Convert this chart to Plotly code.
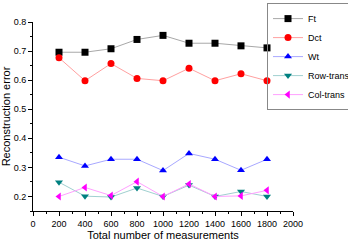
import plotly.graph_objects as go

x = [200, 400, 600, 800, 1000, 1200, 1400, 1600, 1800]
ft = [0.696, 0.696, 0.708, 0.740, 0.754, 0.727, 0.727, 0.718, 0.711]
dct = [0.677, 0.598, 0.657, 0.606, 0.598, 0.641, 0.598, 0.622, 0.598]
wt = [0.335, 0.305, 0.328, 0.328, 0.289, 0.348, 0.328, 0.290, 0.328]
row_trans = [0.249, 0.201, 0.198, 0.229, 0.200, 0.239, 0.200, 0.217, 0.200]
col_trans = [0.200, 0.231, 0.203, 0.251, 0.200, 0.243, 0.200, 0.202, 0.221]

series = [
    ("Ft", ft, "#a8a8a8", "#000000", "square"),
    ("Dct", dct, "#ffa0a0", "#ff0000", "circle"),
    ("Wt", wt, "#a8a8ff", "#0000ff", "triangle-up"),
    ("Row-trans", row_trans, "#a0d0d0", "#008080", "triangle-down"),
    ("Col-trans", col_trans, "#ffa0ff", "#ff00ff", "triangle-left"),
]

fig = go.Figure()
for name, vals, lc, mc, sym in series:
    fig.add_trace(go.Scatter(
        x=x, y=vals, name=name, mode="lines+markers",
        line=dict(color=lc, width=1),
        marker=dict(symbol=sym, color=mc, size=7),
    ))

axis_common = dict(
    showgrid=False, zeroline=False, showline=True, linecolor="#000000", linewidth=1,
    ticks="outside", ticklen=4, tickcolor="#000000", tickwidth=1,
    tickfont=dict(size=9, color="#000000"), automargin=False, tickangle=0,
)
fig.update_xaxes(range=[0, 2000], tick0=0, dtick=200,
                 minor=dict(ticks="outside", ticklen=2, dtick=100, tickcolor="#000000"),
                 title=dict(text="Total number of measurements", font=dict(size=11, color="#000000"), standoff=0),
                 **axis_common)
fig.update_yaxes(range=[0.15, 0.8], tick0=0.2, dtick=0.1, tickformat=".1f",
                 minor=dict(ticks="outside", ticklen=2, dtick=0.05, tickcolor="#000000"),
                 title=dict(text="Reconstruction error", font=dict(size=11, color="#000000"), standoff=2),
                 **axis_common)

fig.update_layout(
    width=348, height=241,
    margin=dict(l=33, r=55, t=22, b=30, autoexpand=False),
    paper_bgcolor="white", plot_bgcolor="white",
    font=dict(family="Liberation Sans, Arial, sans-serif", size=10, color="#000000"),
    legend=dict(x=0.9, y=1.1, xanchor="left", yanchor="top",
                bordercolor="#888888", borderwidth=1, bgcolor="rgba(255,255,255,0)",
                font=dict(size=9), tracegroupgap=0, itemwidth=30),
    showlegend=True,
)
fig.write_html("out.html", config={"displayModeBar": False},
               post_script="document.body.style.margin='0';document.body.style.padding='0';")
